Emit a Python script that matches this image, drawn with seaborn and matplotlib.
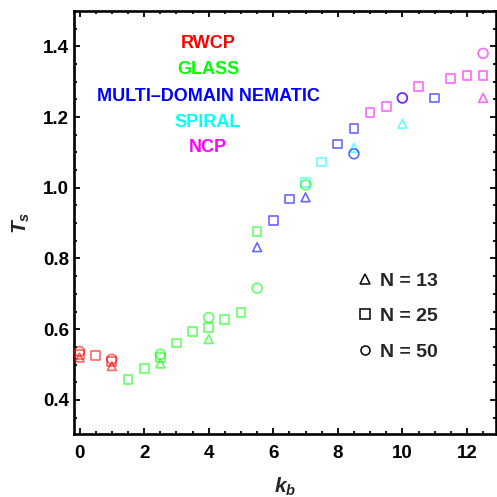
import numpy as np
import pandas as pd
import matplotlib
matplotlib.use('Agg')
import matplotlib.pyplot as plt
from matplotlib.lines import Line2D
from matplotlib.ticker import MultipleLocator
import seaborn as sns

# phases
phases = ['RWCP', 'GLASS', 'MULTI–DOMAIN NEMATIC', 'SPIRAL', 'NCP']
phase_colors = ['#FF0000', '#00FF00', '#0000FF', '#00FFFF', '#FF00FF']

# N = 13
k13 = [0, 1, 2.5, 4, 5.5, 7, 8.5, 10, 12.5]
T13 = [0.520, 0.496, 0.503, 0.572, 0.832, 0.973, 1.113, 1.181, 1.254]
ph13 = ['RWCP', 'RWCP', 'GLASS', 'GLASS', 'MULTI–DOMAIN NEMATIC', 'MULTI–DOMAIN NEMATIC',
        'SPIRAL', 'SPIRAL', 'NCP']

# N = 25
k25 = [0, 0.5, 1, 1.5, 2, 2.5, 3, 3.5, 4, 4.5, 5, 5.5, 6, 6.5, 7, 7.5, 8, 8.5, 9, 9.5,
       10.5, 11, 11.5, 12, 12.5]
T25 = [0.528, 0.525, 0.508, 0.458, 0.489, 0.520, 0.561, 0.593, 0.605, 0.628, 0.648, 0.876,
       0.907, 0.968, 1.015, 1.073, 1.124, 1.167, 1.212, 1.229, 1.286, 1.254, 1.308, 1.317, 1.317]
ph25 = (['RWCP'] * 3 + ['GLASS'] * 9 + ['MULTI–DOMAIN NEMATIC'] * 2 + ['SPIRAL'] * 2
        + ['MULTI–DOMAIN NEMATIC'] * 2 + ['NCP'] * 3 + ['MULTI–DOMAIN NEMATIC'] + ['NCP'] * 3)

# N = 50
k50 = [0, 1, 2.5, 4, 5.5, 7, 8.5, 10, 10, 12.5]
T50 = [0.537, 0.515, 0.529, 0.633, 0.716, 1.008, 1.096, 1.254, 1.254, 1.380]
ph50 = ['RWCP', 'RWCP', 'GLASS', 'GLASS', 'GLASS', 'GLASS', 'MULTI–DOMAIN NEMATIC',
        'NCP', 'MULTI–DOMAIN NEMATIC', 'NCP']

df = pd.concat([
    pd.DataFrame({'k': k13, 'T': T13, 'phase': ph13, 'N': 13}),
    pd.DataFrame({'k': k25, 'T': T25, 'phase': ph25, 'N': 25}),
    pd.DataFrame({'k': k50, 'T': T50, 'phase': ph50, 'N': 50}),
], ignore_index=True)

sns.set_style('ticks')
plt.rcParams['font.family'] = ['Liberation Sans', 'DejaVu Sans']
plt.rcParams['font.weight'] = 'bold'
plt.rcParams['mathtext.fontset'] = 'custom'
plt.rcParams['mathtext.it'] = 'Liberation Sans:bold:italic'
plt.rcParams['mathtext.rm'] = 'Liberation Sans:bold'

fig = plt.figure(figsize=(4.97, 4.97), dpi=100)
ax = fig.add_axes([0.149, 0.127, 0.849, 0.851])

markers = {13: '^', 25: 's', 50: 'o'}
sizes = {13: 40, 25: 40, 50: 50}
for n in [13, 25, 50]:
    sub = df[df['N'] == n]
    for i in range(len(sub)):
        row = sub.iloc[[i]]
        c = phase_colors[phases.index(row['phase'].iloc[0])]
        sns.scatterplot(data=row, x='k', y='T', marker=markers[n], s=sizes[n],
                        color=c, facecolors='none', edgecolor=c, linewidths=1.2,
                        alpha=0.6, legend=False, ax=ax, zorder=3)

ax.set_xlim(-0.17, 12.9)
ax.set_ylim(0.304, 1.5)
ax.xaxis.set_minor_locator(MultipleLocator(0.5))
ax.yaxis.set_minor_locator(MultipleLocator(0.05))
ax.set_xticks([0, 2, 4, 6, 8, 10, 12])
ax.set_xticklabels(['0', '2', '4', '6', '8', '10', '12'])
ax.set_yticks([0.4, 0.6, 0.8, 1.0, 1.2, 1.4])
ax.set_yticklabels(['0.4', '0.6', '0.8', '1.0', '1.2', '1.4'])
ax.tick_params(which='both', direction='in', top=True, right=True, width=1.3,
               labelsize=13.5, colors='black')
ax.tick_params(which='major', length=4)
ax.tick_params(which='minor', length=2.2)
ax.tick_params(axis='x', which='major', pad=8)
ax.tick_params(axis='y', which='major', pad=3.5)
for s in ax.spines.values():
    s.set_linewidth(1.9)
    s.set_color('black')

ax.set_xlabel(r'$k_b$', fontsize=15, labelpad=10)
ax.set_ylabel(r'$T_s$', fontsize=15, labelpad=8)

ys = [0.922, 0.8605, 0.797, 0.736, 0.678]
for name, c, y in zip(phases, phase_colors, ys):
    ax.text(0.3175, y, name, color=c, fontsize=13, fontweight='bold',
            ha='center', va='center', transform=ax.transAxes)

handles = [Line2D([], [], ls='none', marker=markers[n], mfc='none', mec='black',
                  mew=1.1, ms=7.5 if n != 50 else 6.5) for n in [13, 25, 50]]
ax.legend(handles, ['N = 13', 'N = 25', 'N = 50'], loc='upper left',
          bbox_to_anchor=((357 - 74) / 422, (434 - 272) / 423), frameon=False,
          borderaxespad=0, borderpad=0, handlelength=0.8, handletextpad=0.4,
          labelspacing=0.92, prop={'size': 14, 'weight': 'bold'})

fig.savefig('out.png', dpi=100)
